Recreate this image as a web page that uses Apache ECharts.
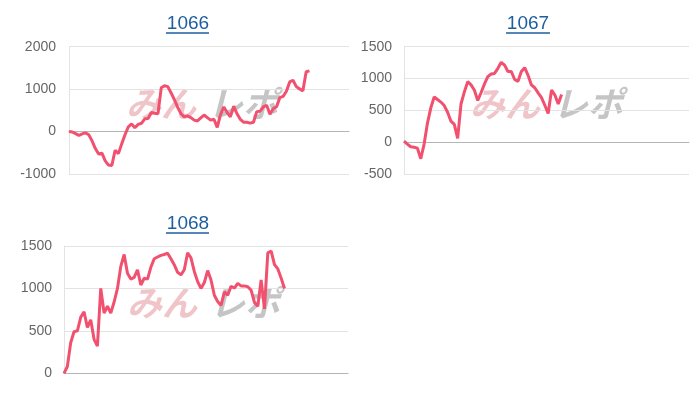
<!DOCTYPE html>
<html>
<head>
<meta charset="utf-8">
<script src="https://cdn.jsdelivr.net/npm/echarts@6/dist/echarts.min.js"></script>
<style>
html,body{margin:0;padding:0;background:#fff;}
#c{width:700px;height:400px;}
</style>
</head>
<body>
<div id="c"></div>
<script>
// ---- data ----
var titles = ['1066', '1067', '1068'];
var categoryCount = 86;
var categories = Array.from({length: categoryCount}, function (_, i) { return String(i + 1); });

var series1066 = [0, -10, -50, -90, -55, -30, -75, -220, -400, -530, -510, -690, -790, -800, -440, -520, -290, -75, 110, 180,
  90, 170, 195, 300, 310, 450, 430, 420, 1030, 1080, 1060, 910, 750, 570, 420, 345, 370, 330, 270, 250,
  320, 390, 330, 270, 290, 100, 400, 580, 450, 350, 600, 420, 290, 220, 220, 200, 220, 470, 480, 580,
  620, 410, 540, 585, 800, 830, 950, 1170, 1210, 1060, 1005, 960, 1410, 1430];

var series1067 = [15, -30, -72, -78, -95, -260, -30, 300, 540, 710, 670, 630, 575, 470, 330, 280, 60, 600, 790, 950,
  900, 815, 655, 780, 915, 1030, 1070, 1080, 1160, 1255, 1210, 1110, 1110, 985, 955, 1110, 1170, 1050, 900, 855,
  775, 700, 580, 450, 820, 740, 600, 750];

var series1068 = [0, 80, 360, 490, 500, 660, 725, 540, 630, 400, 320, 1000, 710, 790, 710, 840, 1000, 1260, 1400, 1180,
  1110, 1130, 1220, 1040, 1120, 1110, 1250, 1350, 1370, 1390, 1400, 1415, 1350, 1280, 1190, 1160, 1220, 1420, 1360, 1200,
  1080, 1000, 1070, 1210, 1100, 920, 845, 800, 960, 920, 1025, 1005, 1060, 1030, 1030, 1020, 980, 835, 790, 1100,
  760, 1420, 1440, 1280, 1230, 1120, 1000];

var yTicks1066 = {min: -1000, max: 2000, interval: 1000};
var yTicks1067 = {min: -500, max: 1500, interval: 500};
var yTicks1068 = {min: 0, max: 1500, interval: 500};

var watermarkA = 'みん';
var watermarkB = 'レポ';

// ---- layout / style ----
var lineColor = '#f2506f';
var titleColor = '#1e5d9f';
var labelColor = '#666';
var font = '"Liberation Sans", Arial, sans-serif';

var grids = [
  {left: 69, top: 46.7, width: 280, height: 127.3},
  {left: 404, top: 46.7, width: 285, height: 127.3},
  {left: 64, top: 246, width: 284, height: 127.3}
];
var yCfg = [yTicks1066, yTicks1067, yTicks1068];
var yMargin = [13, 12, 12];
var seriesData = [series1066, series1067, series1068];

var titlePos = [
  {x: 188, y: 24, ux1: 166, ux2: 209, uy: 33},
  {x: 528, y: 24, ux1: 506, ux2: 550, uy: 33},
  {x: 188, y: 224, ux1: 166, ux2: 209, uy: 233}
];
var wmPos = [
  {xa: 161, xb: 243, y: 104},
  {xa: 505, xb: 588, y: 104},
  {xa: 162, xb: 245, y: 303}
];

var xAxes = [], yAxes = [], series = [], graphics = [];
for (var k = 0; k < 3; k++) {
  xAxes.push({
    type: 'category', gridIndex: k, data: categories, boundaryGap: false,
    axisLabel: {show: false}, axisTick: {show: false},
    axisLine: {show: true, onZero: true, lineStyle: {color: '#b5b5b5', width: 1}},
    splitLine: {show: false}
  });
  yAxes.push({
    type: 'value', gridIndex: k, min: yCfg[k].min, max: yCfg[k].max, interval: yCfg[k].interval,
    axisLine: {show: true, lineStyle: {color: '#e3e3e3'}},
    axisTick: {show: false},
    axisLabel: {color: labelColor, fontSize: 14, fontFamily: font, margin: yMargin[k],
      formatter: function (v) { return String(v); }},
    splitLine: {show: true, lineStyle: {color: '#e3e3e3', width: 1}}
  });
  series.push({
    type: 'line', xAxisIndex: k, yAxisIndex: k, data: seriesData[k],
    showSymbol: false, symbol: 'none', z: 5,
    lineStyle: {color: lineColor, width: 3}, itemStyle: {color: lineColor},
    animation: false
  });
  var t = titlePos[k];
  graphics.push({
    type: 'text', x: t.x, y: t.y, z: 10,
    style: {text: titles[k], fill: titleColor, font: '19px ' + font, textAlign: 'center', textVerticalAlign: 'middle'}
  });
  graphics.push({
    type: 'line', z: 10,
    shape: {x1: t.ux1, y1: t.uy, x2: t.ux2, y2: t.uy},
    style: {stroke: titleColor, lineWidth: 1.5}
  });
  var w = wmPos[k];
  graphics.push({
    type: 'text', x: w.xa, y: w.y, z: 0,
    style: {text: watermarkA, fill: 'rgba(228,150,156,0.55)', font: 'italic bold 35px "Noto Sans CJK JP"', textAlign: 'center', textVerticalAlign: 'middle'}
  });
  graphics.push({
    type: 'text', x: w.xb, y: w.y, z: 0,
    style: {text: watermarkB, fill: 'rgba(150,150,150,0.55)', font: 'italic bold 35px "Noto Sans CJK JP"', textAlign: 'center', textVerticalAlign: 'middle'}
  });
}

var chart = echarts.init(document.getElementById('c'), null, {renderer: 'canvas'});
chart.setOption({
  animation: false,
  backgroundColor: '#fff',
  grid: grids,
  xAxis: xAxes,
  yAxis: yAxes,
  series: series,
  graphic: graphics
});
</script>
</body>
</html>
